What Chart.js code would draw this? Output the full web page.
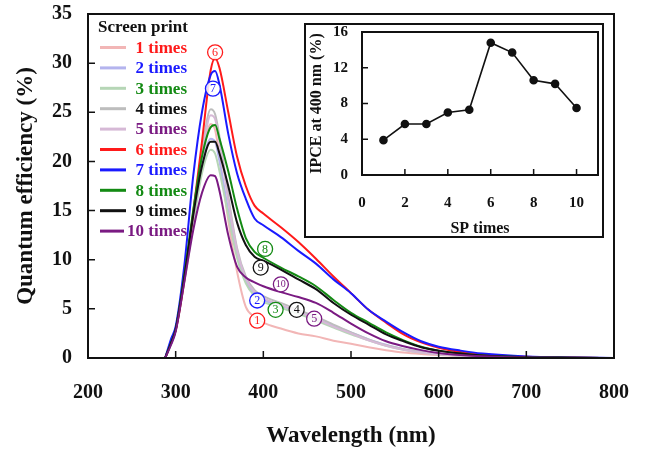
<!DOCTYPE html>
<html>
<head>
<meta charset="utf-8">
<script src="https://cdn.jsdelivr.net/npm/chart.js@4.4.1/dist/chart.umd.min.js"></script>
<style>
  html, body { margin: 0; padding: 0; background: #fff; }
  #wrap { position: relative; width: 645px; height: 450px; }
  #main { position: absolute; left: 0; top: 0; }
  #inset { position: absolute; left: 304px; top: 23px; background: #fff; }
</style>
</head>
<body>
<div id="wrap">
  <canvas id="main" width="645" height="450"></canvas>
  <canvas id="inset" width="300" height="215"></canvas>
</div>
<script>
// wavelength grid (nm) shared by all spectra
const wavelength = [288, 295, 300, 310, 320, 330, 340, 345, 350, 360, 370, 380, 390, 400, 420, 440, 460, 480, 500, 520, 540, 560, 580, 600, 625, 650, 700, 750, 800];

// quantum efficiency (%) for each number of screen prints
const times1  = [0, 1.5, 2.8, 8.0, 14.0, 20.0, 23.8, 23.2, 20.5, 14.0, 8.8, 5.2, 4.2, 3.6, 3.0, 2.5, 2.2, 1.75, 1.45, 1.1, 0.8, 0.55, 0.4, 0.3, 0.2, 0.12, 0.05, 0.02, 0];
const times2  = [0, 1.5, 2.8, 8.0, 14.0, 19.5, 22.3, 22.0, 20.0, 15.0, 10.5, 7.8, 6.5, 5.9, 5.3, 4.7, 4.0, 3.3, 2.6, 1.9, 1.35, 0.9, 0.6, 0.4, 0.25, 0.15, 0.06, 0.02, 0];
const times3  = [0, 1.5, 2.8, 7.8, 13.5, 18.8, 21.2, 20.8, 19.0, 14.5, 10.2, 7.6, 6.3, 5.7, 5.1, 4.5, 3.8, 3.1, 2.4, 1.8, 1.25, 0.85, 0.55, 0.38, 0.24, 0.14, 0.05, 0.02, 0];
const times4  = [0, 1.6, 3.0, 8.3, 14.5, 21.0, 25.3, 24.8, 22.5, 16.5, 11.2, 8.3, 6.9, 6.3, 5.6, 4.9, 4.2, 3.4, 2.6, 1.9, 1.3, 0.9, 0.6, 0.4, 0.25, 0.15, 0.06, 0.02, 0];
const times5  = [0, 1.6, 3.0, 8.2, 14.3, 20.5, 24.7, 24.3, 22.0, 16.0, 11.0, 8.1, 6.7, 6.1, 5.4, 4.7, 4.0, 3.2, 2.5, 1.8, 1.25, 0.85, 0.55, 0.38, 0.24, 0.14, 0.05, 0.02, 0];
const times6  = [0, 1.7, 2.8, 8.0, 14.8, 22.0, 29.3, 30.5, 29.5, 25.0, 20.5, 17.5, 15.5, 14.7, 13.3, 11.8, 10.1, 8.3, 6.6, 4.9, 3.6, 2.4, 1.6, 1.05, 0.6, 0.35, 0.12, 0.04, 0];
const times7  = [0, 2.0, 3.2, 9.5, 18.5, 25.0, 28.8, 29.2, 27.8, 22.8, 18.8, 16.2, 14.2, 13.5, 12.3, 10.9, 9.6, 8.0, 6.6, 4.9, 3.7, 2.6, 1.7, 1.15, 0.75, 0.45, 0.15, 0.05, 0];
const times8  = [0, 1.6, 2.9, 8.5, 15.0, 20.5, 23.5, 23.7, 22.3, 19.0, 15.2, 12.2, 10.8, 10.2, 9.2, 8.3, 7.3, 5.9, 4.6, 3.6, 2.6, 1.8, 1.15, 0.75, 0.45, 0.25, 0.08, 0.03, 0];
const times9  = [0, 1.6, 2.9, 8.3, 14.5, 19.5, 22.0, 22.0, 20.8, 17.5, 13.8, 11.5, 10.3, 9.9, 9.0, 8.0, 7.0, 5.6, 4.4, 3.4, 2.4, 1.7, 1.1, 0.75, 0.45, 0.25, 0.08, 0.03, 0];
const times10 = [0, 1.4, 2.7, 7.8, 13.0, 16.8, 18.6, 18.5, 17.0, 12.5, 9.3, 8.2, 7.7, 7.3, 6.7, 6.2, 5.6, 4.6, 3.5, 2.5, 1.7, 1.2, 0.8, 0.5, 0.3, 0.18, 0.06, 0.02, 0];

const seriesNames = ['1 times', '2 times', '3 times', '4 times', '5 times', '6 times', '7 times', '8 times', '9 times', '10 times'];
const lineColors = ['#f2b6b6', '#b4b4ee', '#b6d6b6', '#bdbdbd', '#d6b9d6', '#ff1a1a', '#1a1aff', '#138a13', '#111111', '#7a1a82'];
const textColors = ['#ff1a1a', '#1a1aff', '#138a13', '#111111', '#7a1a82', '#ff1a1a', '#1a1aff', '#138a13', '#111111', '#7a1a82'];

const xTickValues = [200, 300, 400, 500, 600, 700, 800];
const yTickValues = [0, 5, 10, 15, 20, 25, 30, 35];

// inset: IPCE at 400 nm vs number of screen prints
const spTimes = [1, 2, 3, 4, 5, 6, 7, 8, 9, 10];
const ipce400 = [3.9, 5.7, 5.7, 7.0, 7.3, 14.8, 13.7, 10.6, 10.2, 7.5];
const insetXTicks = [0, 2, 4, 6, 8, 10];
const insetYTicks = [0, 4, 8, 12, 16];

// circled numbers next to the curves (wavelength, efficiency)
const curveTags = [
  { n: 1, x: 393, y: 3.8 },
  { n: 2, x: 393, y: 5.85 },
  { n: 3, x: 414, y: 4.9 },
  { n: 4, x: 438, y: 4.9 },
  { n: 5, x: 458, y: 4.0 },
  { n: 6, x: 345, y: 31.1 },
  { n: 7, x: 342.5, y: 27.4 },
  { n: 8, x: 402, y: 11.1 },
  { n: 9, x: 397, y: 9.2 },
  { n: 10, x: 420, y: 7.5 }
];

const serif = "'Liberation Serif', 'Times New Roman', serif";
Chart.defaults.font.family = serif;
Chart.defaults.color = '#111';

const allSeries = [times1, times2, times3, times4, times5, times6, times7, times8, times9, times10];

const datasets = allSeries.map((vals, i) => ({
  label: seriesNames[i],
  data: vals.map((v, k) => ({ x: wavelength[k], y: v })),
  borderColor: lineColors[i],
  borderWidth: 2,
  pointRadius: 0,
  tension: 0.4,
  cubicInterpolationMode: 'monotone',
  order: 10 - i
}));

function fixedTicks(values) {
  return scale => { scale.ticks = values.map(v => ({ value: v })); };
}

// pin the axis box size and drop the extra label padding so the plot area is exact
function fixSize(prop, size) {
  return s => {
    s[prop] = size;
    s.paddingTop = 0; s.paddingBottom = 0; s.paddingLeft = 0; s.paddingRight = 0;
  };
}

function drawFrame(chart, tickLen) {
  const { ctx, chartArea: a, scales: { x, y } } = chart;
  ctx.save();
  ctx.strokeStyle = '#111';
  ctx.lineWidth = 2;
  ctx.strokeRect(a.left, a.top, a.right - a.left, a.bottom - a.top);
  ctx.lineWidth = 1.5;
  ctx.beginPath();
  x.ticks.forEach(t => {
    const px = x.getPixelForValue(t.value);
    ctx.moveTo(px, a.bottom);
    ctx.lineTo(px, a.bottom - tickLen);
  });
  y.ticks.forEach(t => {
    const py = y.getPixelForValue(t.value);
    ctx.moveTo(a.left, py);
    ctx.lineTo(a.left + tickLen, py);
  });
  ctx.stroke();
  ctx.restore();
}

const mainDecor = {
  id: 'mainDecor',
  afterDatasetsDraw(chart) {
    const { ctx, chartArea: a, scales: { x, y } } = chart;
    drawFrame(chart, 7);

    // circled curve numbers
    ctx.save();
    curveTags.forEach(tag => {
      const px = x.getPixelForValue(tag.x);
      const py = y.getPixelForValue(tag.y);
      const c = textColors[tag.n - 1];
      ctx.beginPath();
      ctx.arc(px, py, 7.5, 0, Math.PI * 2);
      ctx.fillStyle = 'rgba(255,255,255,0.85)';
      ctx.fill();
      ctx.strokeStyle = c;
      ctx.lineWidth = 1.3;
      ctx.stroke();
      ctx.fillStyle = c;
      ctx.font = (tag.n === 10 ? '10px ' : '12px ') + serif;
      ctx.textAlign = 'center';
      ctx.textBaseline = 'middle';
      ctx.fillText(String(tag.n), px, py + 0.5);
    });

    // legend box inside the plot
    const lx = a.left + 10;
    ctx.font = 'bold 17px ' + serif;
    ctx.textAlign = 'left';
    ctx.textBaseline = 'middle';
    ctx.fillStyle = '#111';
    ctx.fillText('Screen print', lx, a.top + 14);
    seriesNames.forEach((name, i) => {
      const ry = a.top + 33.5 + i * 20.4;
      ctx.strokeStyle = lineColors[i];
      ctx.lineWidth = 3;
      ctx.beginPath();
      ctx.moveTo(lx + 2, ry);
      ctx.lineTo(lx + (i === 9 ? 26 : 28), ry);
      ctx.stroke();
      ctx.fillStyle = textColors[i];
      ctx.textAlign = 'right';
      ctx.fillText(name, a.left + 99, ry + 1);
    });
    ctx.restore();
  }
};

new Chart(document.getElementById('main'), {
  type: 'line',
  data: { datasets },
  options: {
    responsive: false,
    animation: false,
    layout: { padding: { top: 14, right: 31, left: 0, bottom: 0 } },
    plugins: { legend: { display: false }, tooltip: { enabled: false } },
    scales: {
      x: {
        type: 'linear',
        min: 200,
        max: 800,
        afterBuildTicks: fixedTicks(xTickValues),
        afterFit: fixSize('height', 92),
        grid: { display: false, drawTicks: false },
        border: { display: false },
        ticks: { font: { size: 20, weight: 'bold' }, padding: 23, maxRotation: 0 },
        title: { display: true, text: 'Wavelength (nm)', font: { size: 23, weight: 'bold' }, padding: { bottom: 0, top: 0 } }
      },
      y: {
        min: 0,
        max: 35,
        afterBuildTicks: fixedTicks(yTickValues),
        afterFit: fixSize('width', 88),
        grid: { display: false, drawTicks: false },
        border: { display: false },
        ticks: { font: { size: 20, weight: 'bold' }, padding: 16 },
        title: { display: true, text: 'Quantum efficiency (%)', font: { size: 23, weight: 'bold' }, padding: { top: 12, bottom: 0 } }
      }
    }
  },
  plugins: [mainDecor]
});

// inset chart
const insetDecor = {
  id: 'insetDecor',
  beforeDraw(chart) {
    const { ctx, width, height } = chart;
    ctx.save();
    ctx.fillStyle = '#fff';
    ctx.fillRect(0, 0, width, height);
    ctx.strokeStyle = '#111';
    ctx.lineWidth = 2;
    ctx.strokeRect(1, 1, width - 2, height - 2);
    ctx.restore();
  },
  afterDatasetsDraw(chart) {
    drawFrame(chart, 6);
  }
};

new Chart(document.getElementById('inset'), {
  type: 'line',
  data: {
    datasets: [{
      data: spTimes.map((t, i) => ({ x: t, y: ipce400[i] })),
      borderColor: '#111',
      borderWidth: 1.6,
      pointRadius: 3.5,
      pointBackgroundColor: '#111',
      pointBorderColor: '#111',
      tension: 0
    }]
  },
  options: {
    responsive: false,
    animation: false,
    layout: { padding: { top: 9, right: 6, left: 0, bottom: 0 } },
    plugins: { legend: { display: false }, tooltip: { enabled: false } },
    scales: {
      x: {
        type: 'linear',
        min: 0,
        max: 11,
        afterBuildTicks: fixedTicks(insetXTicks),
        afterFit: fixSize('height', 63),
        grid: { display: false, drawTicks: false },
        border: { display: false },
        ticks: { font: { size: 15, weight: 'bold' }, padding: 19, maxRotation: 0 },
        title: { display: true, text: 'SP times', font: { size: 16, weight: 'bold' }, padding: { bottom: 0, top: 0 } }
      },
      y: {
        min: 0,
        max: 16,
        afterBuildTicks: fixedTicks(insetYTicks),
        afterFit: fixSize('width', 58),
        grid: { display: false, drawTicks: false },
        border: { display: false },
        ticks: { font: { size: 15, weight: 'bold' }, padding: 14 },
        title: { display: true, text: 'IPCE at 400 nm (%)', font: { size: 16, weight: 'bold' }, padding: { top: 3, bottom: 0 } }
      }
    }
  },
  plugins: [insetDecor]
});
</script>
</body>
</html>
